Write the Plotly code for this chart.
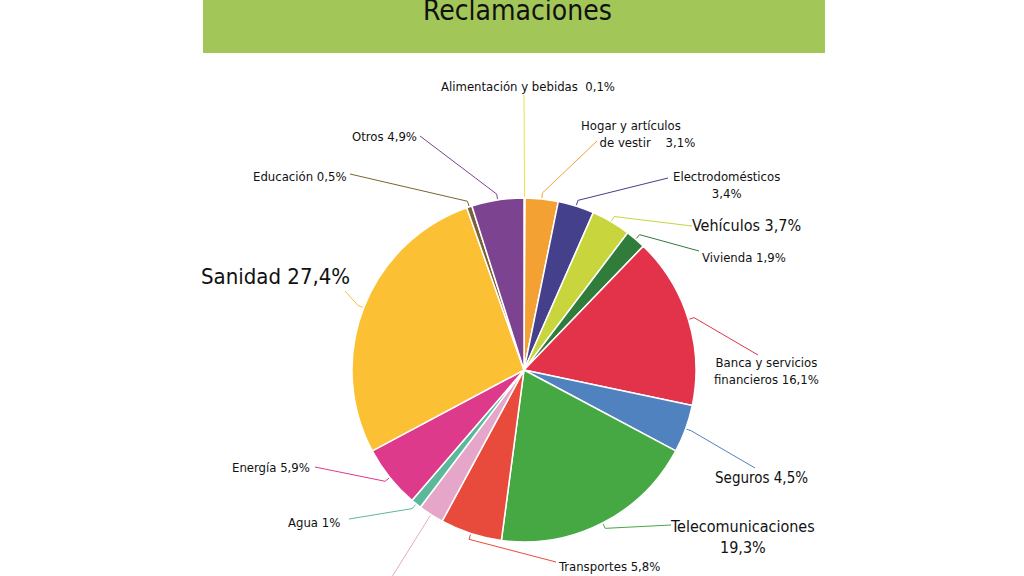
import math
import plotly.graph_objects as go

# ---- data (clockwise from 12 o'clock) ----
categories = ["Alimentación y bebidas", "Hogar y artículos de vestir", "Electrodomésticos",
              "Vehículos", "Vivienda", "Banca y servicios financieros", "Seguros",
              "Telecomunicaciones", "Transportes", "Turismo", "Agua", "Energía",
              "Sanidad", "Educación", "Otros"]
values = [0.1, 3.1, 3.4, 3.7, 1.9, 16.1, 4.5, 19.3, 5.8, 2.4, 1.0, 5.9, 27.4, 0.5, 4.9]
colors = ["#EDE24A", "#F3A132", "#45408C", "#C8D53C", "#2F7C3B", "#E3334B", "#4F82BE",
          "#46A843", "#E84B3C", "#E6A6C9", "#5CB89B", "#DD3A8B", "#FBC034", "#7B6234", "#7C4490"]
label_texts = ["Alimentación y bebidas  0,1%", "Hogar y artículos<br>     de vestir    3,1%",
               "Electrodomésticos<br>3,4%", "Vehículos 3,7%", "Vivienda 1,9%",
               "Banca y servicios<br>financieros 16,1%", "Seguros 4,5%",
               "Telecomunicaciones<br>19,3%", "Transportes 5,8%", None, "Agua 1%",
               "Energía 5,9%", "Sanidad 27,4%", "Educación 0,5%", "Otros 4,9%"]
title_text = "Reclamaciones"

W, H = 1024, 576
CX, CY, R = 524, 370, 172
FONT = "Liberation Sans Narrow, DejaVu Sans Condensed, Arial Narrow, sans-serif"


def px(x):
    return x / W


def py(y):
    return 1 - y / H


fig = go.Figure(go.Pie(
    labels=categories, values=values, sort=False, direction="clockwise", rotation=0,
    marker=dict(colors=colors, line=dict(color="white", width=1.5)),
    textinfo="none", hoverinfo="label+percent", showlegend=False,
    domain=dict(x=[px(CX - R), px(CX + R)], y=[py(CY + R), py(CY - R)]),
))

# label layout: (text x, text y, xanchor, font size, leader start x, leader start y)
label_layout = [
    (528, 86, "center", 13, 524, 95),
    (638, 134, "center", 13, 597, 141),
    (726, 185, "center", 13, 668, 178),
    (746, 225, "center", 16, 692, 226),
    (744, 257, "center", 13, 699, 251),
    (766, 371, "center", 13, 758, 355),
    (761, 478, "center", 15, 755, 468),
    (742, 537, "center", 16, 671, 525),
    (609, 566, "center", 13, 556, 562),
    (None, None, None, None, 390, 580),
    (314, 522, "center", 13, 349, 519),
    (271, 467, "center", 13, 315, 467),
    (275, 276, "center", 22, 345, 291),
    (300, 176, "center", 13, 350, 174),
    (384, 136, "center", 13, 420, 136),
]

total = sum(values)
cum = 0.0
shapes = []
annotations = []
for val, col, txt, lay in zip(values, colors, label_texts, label_layout):
    mid = (cum + val / 2) / total * 2 * math.pi
    cum += val
    tx, ty, anchor, fs, sx, sy = lay
    # point on pie edge and elbow
    ex, ey = CX + (R + 1) * math.sin(mid), CY - (R + 1) * math.cos(mid)
    bx, by = CX + (R + 6) * math.sin(mid), CY - (R + 6) * math.cos(mid)
    path = f"M {px(sx)},{py(sy)} L {px(bx)},{py(by)} L {px(ex)},{py(ey)}"
    shapes.append(dict(type="path", xref="paper", yref="paper", path=path,
                       line=dict(color=col, width=1), layer="above"))
    if txt:
        annotations.append(dict(x=px(tx), y=py(ty), xref="paper", yref="paper",
                                text=txt, showarrow=False, xanchor=anchor, yanchor="middle",
                                align="left" if "Hogar" in txt else "center",
                                font=dict(family=FONT, size=fs, color="#111111")))

# title banner
shapes.insert(0, dict(type="rect", xref="paper", yref="paper", x0=px(203), x1=px(825),
                      y0=py(53), y1=1.0, fillcolor="#A2C658", line=dict(width=0), layer="below"))
annotations.append(dict(x=px(517), y=py(11), xref="paper", yref="paper", text=title_text,
                        showarrow=False, xanchor="center", yanchor="middle",
                        font=dict(family=FONT, size=28, color="#111111")))

fig.update_layout(width=W, height=H, margin=dict(l=0, r=0, t=0, b=0),
                  paper_bgcolor="white", plot_bgcolor="white",
                  shapes=shapes, annotations=annotations)

fig.write_html("out.html", config={"displayModeBar": False},
               post_script="document.body.style.margin='0';document.body.style.overflow='hidden';")
